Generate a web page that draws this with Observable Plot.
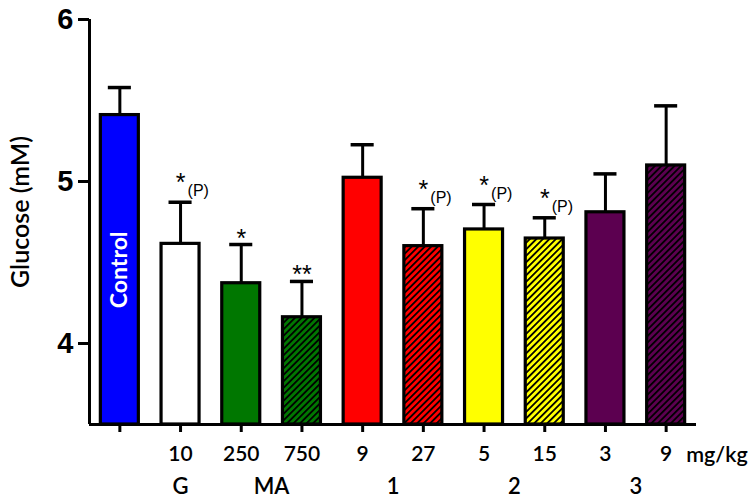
<!DOCTYPE html>
<html>
<head>
<meta charset="utf-8">
<script src="https://cdn.jsdelivr.net/npm/d3@7"></script>
<script src="https://cdn.jsdelivr.net/npm/@observablehq/plot@0.6"></script>
<style>
  html, body { margin: 0; padding: 0; background: #fff; }
  #chart svg { display: block; }
</style>
</head>
<body>
<div id="chart"></div>
<script>
// ---- data ----
const doses = ["", "10", "250", "750", "9", "27", "5", "15", "3", "9"];
const means = [5.41, 4.615, 4.372, 4.162, 5.023, 4.601, 4.704, 4.648, 4.81, 5.099];
const sems  = [0.17, 0.257, 0.239, 0.221, 0.204, 0.231, 0.154, 0.128, 0.237, 0.368];
const colors = ["#0000ff", "#ffffff", "#007700", "#007700", "#ff0000", "#ff0000", "#ffff00", "#ffff00", "#5c0050", "#5c0050"];
const hatched = [false, false, false, true, false, true, false, true, false, true];
const stars = ["", "*", "*", "**", "", "*", "*", "*", "", ""];
const pMarks = ["", "(P)", "", "", "", "(P)", "(P)", "(P)", "", ""];
const groupLabels = ["G", "MA", "1", "2", "3"];
const groupFirst = [1, 2, 4, 6, 8];
const groupLast  = [1, 3, 5, 7, 9];
const yTicks = [4, 5, 6];
const yLabel = "Glucose (mM)";
const unitLabel = "mg/kg";
const controlLabel = "Control";

// ---- table ----
const rows = doses.map((d, i) => ({
  i, dose: d, mean: means[i], sem: sems[i], color: colors[i],
  hatched: hatched[i], star: stars[i], p: pMarks[i]
}));
const groups = groupLabels.map((g, k) => ({label: g, pos: (groupFirst[k] + groupLast[k]) / 2}));
const yMin = 3.5, yMax = 6;
const half = 0.313, capHalf = 0.19;
const labelFont = "Lato, 'Open Sans', sans-serif";
const boldFont = "'Liberation Sans', Arial, sans-serif";

const starsWithP = rows.filter(d => d.star && d.p);
const starsNoP = rows.filter(d => d.star && !d.p);

const plot = Plot.plot({
  width: 755,
  height: 502,
  marginLeft: 89,
  marginRight: 59,
  marginTop: 19,
  marginBottom: 78,
  x: {domain: [-0.5, doses.length - 0.5]},
  y: {domain: [yMin, yMax]},
  color: {type: "identity"},
  marks: [
    Plot.rectY(rows, {
      x1: d => d.i - half, x2: d => d.i + half,
      y1: yMin, y2: "mean",
      fill: d => d.hatched ? `url(#hatch${d.i})` : d.color,
      stroke: "#000", strokeWidth: 3.2
    }),
    Plot.ruleX(rows, {x: "i", y1: "mean", y2: d => d.mean + d.sem, stroke: "#000", strokeWidth: 3}),
    Plot.ruleY(rows, {y: d => d.mean + d.sem, x1: d => d.i - capHalf, x2: d => d.i + capHalf, stroke: "#000", strokeWidth: 3.5}),
    Plot.text(starsWithP, {
      x: "i", y: d => d.mean + d.sem, text: "star",
      dy: -19, fontSize: 25, fontFamily: boldFont, fill: "#000"
    }),
    Plot.text(starsNoP, {
      x: "i", y: d => d.mean + d.sem, text: "star",
      dy: -6, fontSize: 25, fontFamily: boldFont, fill: "#000"
    }),
    Plot.text(rows.filter(d => d.p), {
      x: "i", y: d => d.mean + d.sem, text: "p", dx: 7, dy: -11,
      textAnchor: "start", fontSize: 16, fontFamily: boldFont, fill: "#000"
    }),
    Plot.text([rows[0]], {
      x: "i", y: d => (yMin + d.mean) / 2, text: () => controlLabel,
      rotate: -90, fill: "#fff", fontWeight: "bold", fontSize: 23, fontFamily: labelFont
    }),
    // axis lines
    Plot.ruleX([-0.5], {y1: yMin, y2: yMax, stroke: "#000", strokeWidth: 3}),
    Plot.ruleY([yMin], {x1: -0.5, x2: doses.length - 0.5, stroke: "#000", strokeWidth: 3}),
    Plot.axisY({
      ticks: yTicks, tickSize: 11, tickPadding: 5, tickFormat: d3.format("d"),
      fontSize: 29, fontWeight: "bold", fontFamily: boldFont, strokeWidth: 3, label: null
    }),
    Plot.axisX({
      ticks: d3.range(doses.length), tickFormat: i => doses[i], tickSize: 8, tickPadding: 14,
      fontSize: 21, fontWeight: 600, fontFamily: labelFont, strokeWidth: 3, label: null
    }),
    Plot.text([unitLabel], {
      x: doses.length - 1, frameAnchor: "bottom", dx: 20, dy: 22, lineAnchor: "top",
      textAnchor: "start", fontSize: 21.5, fontWeight: 600, fontFamily: labelFont, fill: "#000"
    }),
    Plot.text(groups, {
      x: "pos", text: "label", frameAnchor: "bottom", dy: 54, lineAnchor: "top",
      fontSize: 22, fontWeight: 600, fontFamily: labelFont, fill: "#000"
    }),
    Plot.text([yLabel], {
      frameAnchor: "left", textAnchor: "middle", rotate: -90, dx: -69, dy: -10,
      fontSize: 25, fontWeight: 600, fontFamily: labelFont, fill: "#000"
    })
  ]
});

// hatch patterns
const defs = d3.select(plot).insert("defs", ":first-child");
rows.filter(d => d.hatched).forEach(d => {
  const pat = defs.append("pattern")
    .attr("id", `hatch${d.i}`)
    .attr("patternUnits", "userSpaceOnUse")
    .attr("width", 4.6).attr("height", 4.6)
    .attr("patternTransform", "rotate(45)");
  pat.append("rect").attr("width", 4.6).attr("height", 4.6).attr("fill", d.color);
  pat.append("line").attr("x1", 0.9).attr("y1", 0).attr("x2", 0.9).attr("y2", 4.6)
    .attr("stroke", "#000").attr("stroke-width", 1.8);
});

document.getElementById("chart").appendChild(plot);
</script>
</body>
</html>
